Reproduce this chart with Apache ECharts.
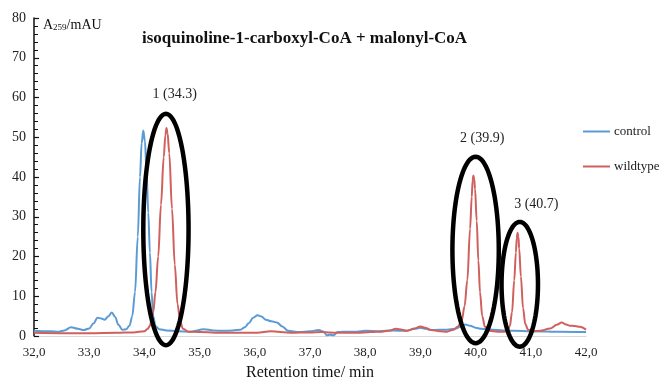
<!DOCTYPE html>
<html>
<head>
<meta charset="utf-8">
<script src="https://cdn.jsdelivr.net/npm/echarts@6/dist/echarts.min.js"></script>
<style>
  html, body { margin: 0; padding: 0; background: #fff; }
  #chart { width: 663px; height: 380px; }
</style>
</head>
<body>
<div id="chart"></div>
<script>
// retention time (min) / absorbance A259 (mAU)
const controlTime = [
  32.0, 32.15, 32.3, 32.45, 32.55, 32.67, 32.8, 32.9, 33.0, 33.08, 33.15, 33.22, 33.28, 33.35,
  33.41, 33.47, 33.53, 33.6, 33.67, 33.73, 33.78, 33.83, 33.88, 33.92, 33.95, 33.98, 34.01,
  34.04, 34.07, 34.1, 34.13, 34.16, 34.2, 34.27, 34.4, 34.6, 34.84, 35.08, 35.25, 35.44, 35.6,
  35.74, 35.82, 35.89, 35.97, 36.05, 36.12, 36.2, 36.3, 36.4, 36.5, 36.6, 36.8, 37.0, 37.16,
  37.25, 37.3, 37.36, 37.43, 37.5, 37.7, 37.85, 38.0, 38.27, 38.5, 38.73, 38.9, 39.0, 39.1,
  39.2, 39.48, 39.63, 39.72, 39.81, 39.9, 40.0, 40.1, 40.3, 40.5, 40.7, 41.0, 41.5, 42.0
];
const controlAbs = [
  1.3, 1.2, 1.2, 1.1, 1.4, 2.2, 1.8, 1.5, 1.9, 3.2, 4.6, 4.4, 4.1, 5.0,
  5.9, 4.8, 2.8, 1.6, 1.7, 2.6, 5, 11, 25, 40, 48.5, 51.7, 49,
  41, 31, 21, 11, 5, 2.5, 1.7, 1.4, 1.2, 1.1, 1.7, 1.4, 1.3, 1.4,
  1.6, 2.2, 3.2, 4.6, 5.2, 4.9, 4.1, 3.7, 3.4, 2.4, 1.3, 1.0, 1.2, 1.5,
  1.1, 0.2, 0.3, 0.2, 1.0, 1.1, 1.1, 1.3, 1.2, 1.4, 1.3, 1.8, 2.1, 1.8,
  1.5, 1.6, 1.8, 2.3, 2.9, 2.6, 2.1, 1.8, 1.6, 1.4, 1.3, 1.2, 1.1, 1.0
];
const wildtypeTime = [
  32.0, 32.5, 33.0, 33.5, 33.8, 34.0, 34.06, 34.1, 34.13, 34.16, 34.2, 34.25, 34.3, 34.35,
  34.38, 34.4, 34.42, 34.45, 34.5, 34.55, 34.6, 34.65, 34.7, 34.8, 35.0, 35.44, 35.8, 36.04,
  36.29, 36.65, 37.0, 37.2, 37.5, 37.85, 38.1, 38.3, 38.45, 38.55, 38.62, 38.75, 38.9, 39.0,
  39.1, 39.2, 39.35, 39.48, 39.6, 39.68, 39.75, 39.8, 39.85, 39.9, 39.93, 39.945, 39.96,
  39.975, 39.99, 40.02, 40.05, 40.08, 40.12, 40.17, 40.25, 40.4, 40.52, 40.58, 40.62, 40.66,
  40.7, 40.73, 40.745, 40.76, 40.775, 40.79, 40.82, 40.86, 40.9, 40.95, 41.05, 41.17, 41.35,
  41.47, 41.56, 41.64, 41.71, 41.8, 41.89, 42.0
];
const wildtypeAbs = [
  0.8, 0.7, 0.7, 0.8, 0.9, 1.2, 1.8, 2.6, 4, 6, 11, 20, 33, 45,
  50.5, 52.3, 51, 46, 32, 18, 8, 3.5, 1.8, 1.1, 1.0, 0.8, 0.8, 0.8,
  1.2, 0.8, 0.9, 1.0, 0.8, 0.8, 1.0, 1.1, 1.4, 1.8, 1.7, 1.3, 1.9, 2.4,
  2.0, 1.5, 1.2, 1.1, 1.6, 2.4, 4, 7.5, 14, 27, 35, 39, 40.4,
  39.5, 37, 29, 19, 11, 5, 2.3, 1.3, 1.1, 1.1, 1.4, 2.5, 6,
  14, 21, 24.5, 26, 25, 22, 15, 7, 3, 1.6, 1.2, 1.3, 1.9,
  2.8, 3.4, 2.9, 2.6, 2.5, 2.3, 1.6
];

// circled peaks: centre (min, mAU), half width (min), half height (mAU), label anchor
const peakLabels = ['1 (34.3)', '2 (39.9)', '3 (40.7)'];
const ringCenterTime = [34.39, 40.0, 40.8];
const ringCenterAbs = [26.8, 21.65, 13.0];
const ringHalfWidth = [0.41, 0.42, 0.33];
const ringHalfHeight = [29.1, 23.45, 15.7];
const labelTime = [34.55, 40.12, 41.1];
const labelAbs = [60.7, 49.8, 33.0];

const xTicks = { min: 32, max: 42, interval: 1 };
const yTicks = { min: 0, max: 80, interval: 10 };

const SERIF = '"Liberation Serif", "Times New Roman", serif';

const pairs = (xs, ys) => xs.map((x, i) => [x, ys[i]]);
const rings = peakLabels.map((t, i) => [
  ringCenterTime[i], ringCenterAbs[i], ringHalfWidth[i], ringHalfHeight[i], labelTime[i], labelAbs[i], t,
]);

const chart = echarts.init(document.getElementById('chart'));

chart.setOption({
  animation: false,
  title: {
    text: 'isoquinoline-1-carboxyl-CoA + malonyl-CoA',
    left: 137,
    top: 25,
    textStyle: { fontFamily: SERIF, fontSize: 17, fontWeight: 'bold', color: '#111' },
  },
  legend: {
    data: ['control', 'wildtype'],
    orient: 'vertical',
    left: 578,
    top: 120,
    icon: 'rect',
    itemWidth: 27,
    itemHeight: 2,
    itemGap: 22,
    textStyle: { fontFamily: SERIF, fontSize: 13, color: '#222', padding: [0, 0, 0, -1] },
  },
  grid: { left: 34, right: 77, top: 18, bottom: 44, outerBoundsMode: 'none', containLabel: false },
  xAxis: {
    type: 'value',
    ...xTicks,
    name: 'Retention time/ min',
    nameLocation: 'middle',
    nameGap: 29,
    nameTextStyle: { fontFamily: SERIF, fontSize: 16, color: '#111' },
    axisLine: { show: true, lineStyle: { color: '#d9d9d9', width: 1 } },
    axisTick: { show: false },
    splitLine: { show: false },
    axisLabel: {
      fontFamily: SERIF,
      fontSize: 13,
      color: '#222',
      margin: 10,
      formatter: (v) => v.toFixed(1).replace('.', ','),
    },
  },
  yAxis: {
    type: 'value',
    ...yTicks,
    name: 'A{sub|259}/mAU',
    nameLocation: 'end',
    nameGap: -7,
    nameTextStyle: {
      fontFamily: SERIF,
      fontSize: 14,
      color: '#111',
      align: 'left',
      verticalAlign: 'middle',
      padding: [0, 0, 0, 9],
      rich: { sub: { fontFamily: SERIF, fontSize: 9, color: '#111', verticalAlign: 'bottom', padding: [6, 0, 0, 0] } },
    },
    axisLine: { show: true, lineStyle: { color: '#111', width: 1.5 } },
    axisTick: { show: true, inside: true, length: 5, lineStyle: { color: '#111', width: 1.2 } },
    minorTick: { show: true, splitNumber: 5, length: 4, lineStyle: { color: '#111', width: 1 } },
    splitLine: { show: false },
    axisLabel: { fontFamily: SERIF, fontSize: 14, color: '#222', margin: 8 },
  },
  series: [
    {
      name: 'control',
      type: 'line',
      data: pairs(controlTime, controlAbs),
      showSymbol: false,
      smooth: 0.35,
      smoothMonotone: 'x',
      lineStyle: { color: '#5B9BD5', width: 2 },
      itemStyle: { color: '#5B9BD5' },
      z: 3,
    },
    {
      name: 'wildtype',
      type: 'line',
      data: pairs(wildtypeTime, wildtypeAbs),
      showSymbol: false,
      smooth: 0.35,
      smoothMonotone: 'x',
      lineStyle: { color: '#D0605E', width: 2 },
      itemStyle: { color: '#D0605E' },
      z: 4,
    },
    {
      name: 'peaks',
      type: 'custom',
      data: rings,
      clip: false,
      silent: true,
      z: 5,
      renderItem: (params, api) => {
        const c = api.coord([api.value(0), api.value(1)]);
        const s = api.size([api.value(2), api.value(3)]);
        const pts = [];
        for (let k = 0; k < 96; k++) {
          const a = (k / 96) * Math.PI * 2;
          pts.push([c[0] + s[0] * Math.cos(a), c[1] + s[1] * Math.sin(a)]);
        }
        const lp = api.coord([api.value(4), api.value(5)]);
        return {
          type: 'group',
          children: [
            {
              type: 'polygon',
              shape: { points: pts },
              style: { fill: 'none', stroke: '#000', lineWidth: 4.5 },
            },
            {
              type: 'text',
              x: lp[0],
              y: lp[1],
              style: {
                text: rings[params.dataIndex][6],
                font: '14px ' + SERIF,
                fill: '#222',
                align: 'center',
                verticalAlign: 'middle',
              },
            },
          ],
        };
      },
    },
  ],
});
</script>
</body>
</html>
